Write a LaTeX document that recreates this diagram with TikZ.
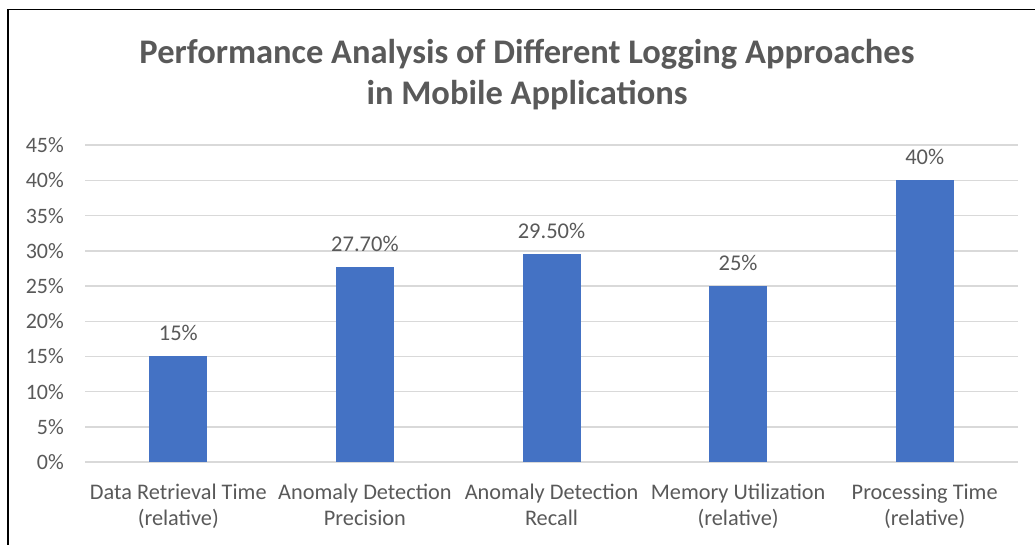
\documentclass[tikz,border=0pt]{standalone}
\usepackage{fontspec}
\setmainfont{Carlito}
\usetikzlibrary{positioning}

\definecolor{barblue}{HTML}{4472C4}
\definecolor{gridgray}{HTML}{D9D9D9}
\definecolor{textgray}{HTML}{595959}

\begin{document}
\begin{tikzpicture}[x=1pt, y=-1pt,
  gridline/.style={gridgray, line width=1.4pt},
  barbox/.style={fill=barblue},
  ticklabel/.style={anchor=east, inner sep=0pt, text=textgray, font=\fontsize{22}{26}\selectfont},
  vallabel/.style={inner sep=0pt, text=textgray, font=\fontsize{22.5}{26}\selectfont},
  catlabel/.style={inner sep=0pt, align=center, text=textgray, font=\fontsize{22.3}{26}\selectfont},
  titlelabel/.style={inner sep=0pt, align=center, text=textgray, font=\fontsize{34.5}{41}\selectfont\bfseries}]
\useasboundingbox (0,0) rectangle (1035,545);

\def\xl{85}
\def\xr{1018}
\def\base{462}
\def\unit{7.04}
\def\hw{29}

\def\xa{178.3}
\def\xb{364.9}
\def\xc{551.5}
\def\xd{738.1}
\def\xe{924.7}

% frame
\draw[black, line width=1.5pt] (8,545) -- (8,9.5) -- (1035,9.5);

% title
\node[titlelabel] (title) at (527,75) {Performance Analysis of Different Logging Approaches\\in Mobile Applications};

% grid and y axis
\draw[gridline] (\xl,\base) -- (\xr,\base);
\draw[gridline] (\xl,\base-5*\unit) -- (\xr,\base-5*\unit);
\draw[gridline] (\xl,\base-10*\unit) -- (\xr,\base-10*\unit);
\draw[gridline] (\xl,\base-15*\unit) -- (\xr,\base-15*\unit);
\draw[gridline] (\xl,\base-20*\unit) -- (\xr,\base-20*\unit);
\draw[gridline] (\xl,\base-25*\unit) -- (\xr,\base-25*\unit);
\draw[gridline] (\xl,\base-30*\unit) -- (\xr,\base-30*\unit);
\draw[gridline] (\xl,\base-35*\unit) -- (\xr,\base-35*\unit);
\draw[gridline] (\xl,\base-40*\unit) -- (\xr,\base-40*\unit);
\draw[gridline] (\xl,\base-45*\unit) -- (\xr,\base-45*\unit);

\node[ticklabel] (y0) at (64,\base) {0\%};
\node[ticklabel] (y5) at (64,\base-5*\unit) {5\%};
\node[ticklabel] (y10) at (64,\base-10*\unit) {10\%};
\node[ticklabel] (y15) at (64,\base-15*\unit) {15\%};
\node[ticklabel] (y20) at (64,\base-20*\unit) {20\%};
\node[ticklabel] (y25) at (64,\base-25*\unit) {25\%};
\node[ticklabel] (y30) at (64,\base-30*\unit) {30\%};
\node[ticklabel] (y35) at (64,\base-35*\unit) {35\%};
\node[ticklabel] (y40) at (64,\base-40*\unit) {40\%};
\node[ticklabel] (y45) at (64,\base-45*\unit) {45\%};

% bars
\fill[barbox] (\xa-\hw,\base) rectangle (\xa+\hw,\base-15*\unit);
\fill[barbox] (\xb-\hw,\base) rectangle (\xb+\hw,\base-27.7*\unit);
\fill[barbox] (\xc-\hw,\base) rectangle (\xc+\hw,\base-29.5*\unit);
\fill[barbox] (\xd-\hw,\base) rectangle (\xd+\hw,\base-25*\unit);
\fill[barbox] (\xe-\hw,\base) rectangle (\xe+\hw,\base-40*\unit);

% values
\node[vallabel] (v1) at (\xa,\base-15*\unit-23) {15\%};
\node[vallabel] (v2) at (\xb,\base-27.7*\unit-23) {27.70\%};
\node[vallabel] (v3) at (\xc,\base-29.5*\unit-23) {29.50\%};
\node[vallabel] (v4) at (\xd,\base-25*\unit-23) {25\%};
\node[vallabel] (v5) at (\xe,\base-40*\unit-23) {40\%};

% categories
\node[catlabel] (c1) at (\xa,507) {Data Retrieval Time\strut\\(relative)\strut};
\node[catlabel] (c2) at (\xb,507) {Anomaly Detection\strut\\Precision\strut};
\node[catlabel] (c3) at (\xc,507) {Anomaly Detection\strut\\Recall\strut};
\node[catlabel] (c4) at (\xd,507) {Memory Utilization\strut\\(relative)\strut};
\node[catlabel] (c5) at (\xe,507) {Processing Time\strut\\(relative)\strut};

\end{tikzpicture}
\end{document}
